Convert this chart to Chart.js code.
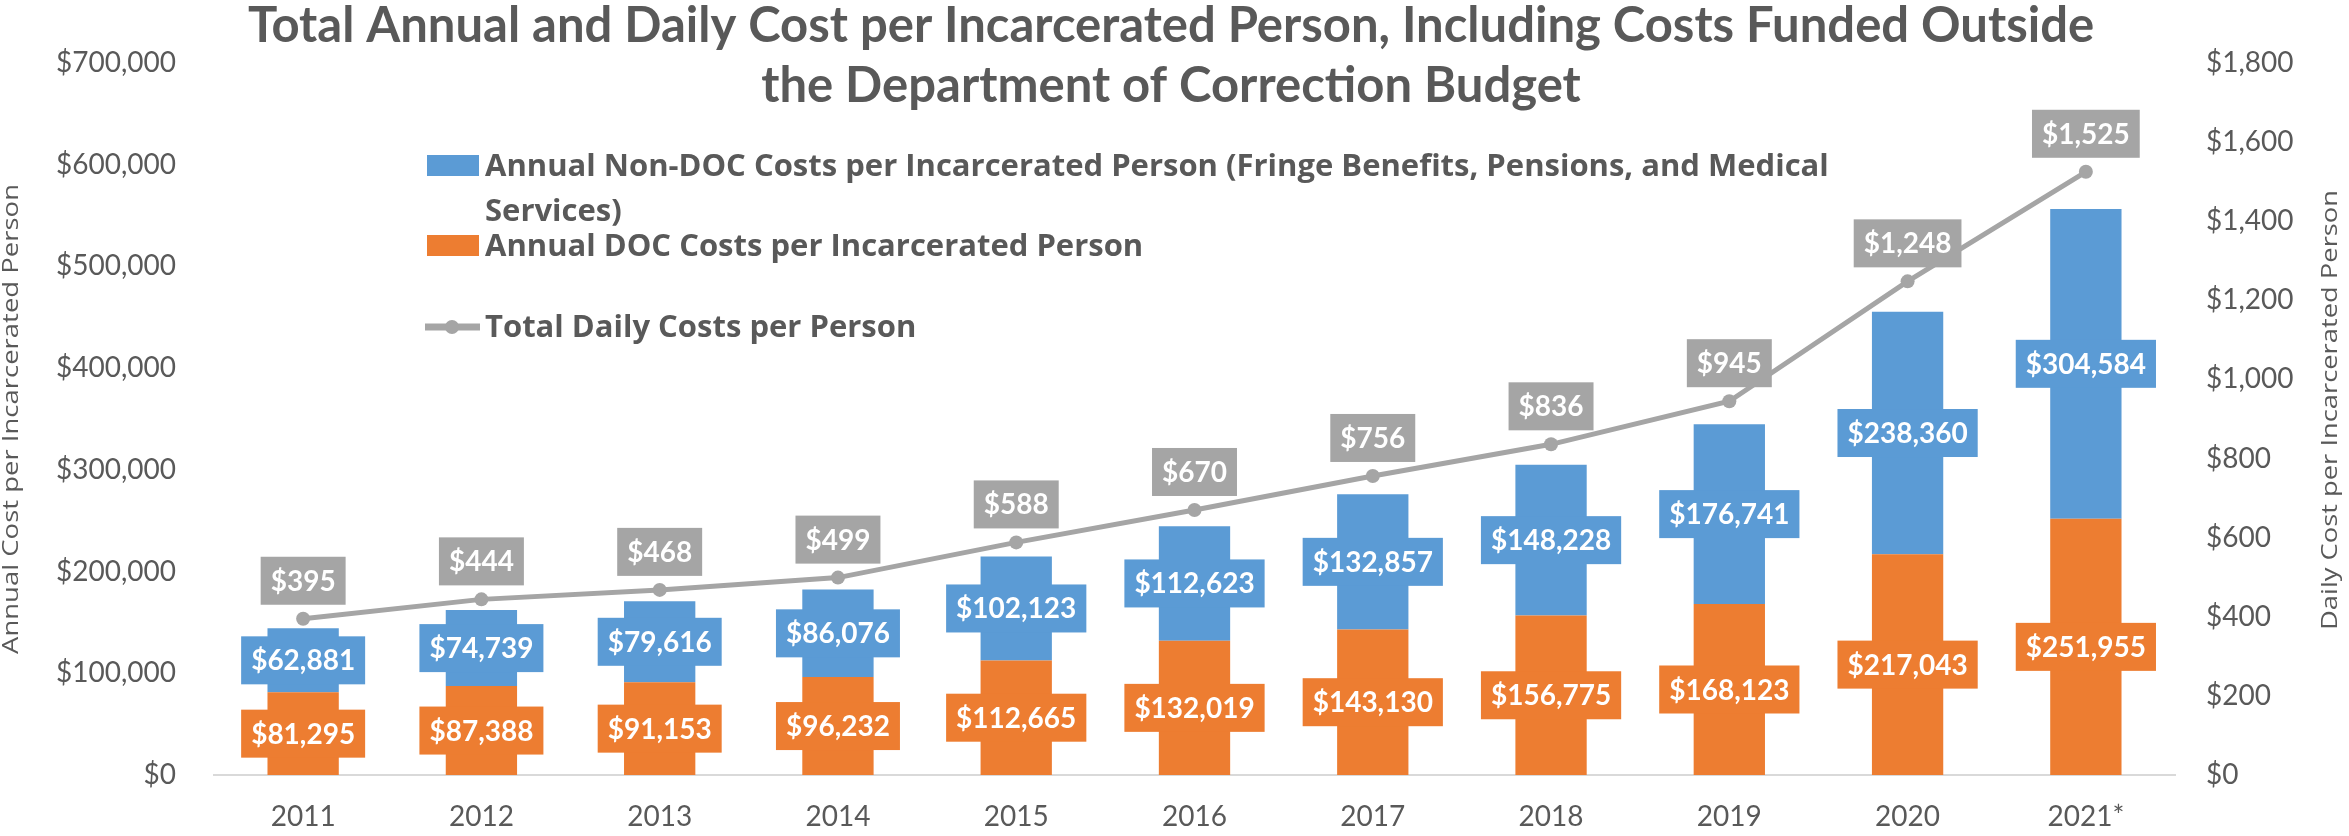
<!DOCTYPE html>
<html>
<head>
<meta charset="utf-8">
<title>Total Annual and Daily Cost per Incarcerated Person</title>
<script src="https://cdn.jsdelivr.net/npm/chart.js@4.4.1/dist/chart.umd.min.js"></script>
<style>
  html, body { margin: 0; padding: 0; background: #fff; }
</style>
</head>
<body>
<canvas id="costChart" width="2349" height="836"></canvas>
<script>
// Chart data
const years = ['2011', '2012', '2013', '2014', '2015', '2016', '2017', '2018', '2019', '2020', '2021*'];
const docCosts = [81295, 87388, 91153, 96232, 112665, 132019, 143130, 156775, 168123, 217043, 251955];
const nonDocCosts = [62881, 74739, 79616, 86076, 102123, 112623, 132857, 148228, 176741, 238360, 304584];
const dailyCosts = [395, 444, 468, 499, 588, 670, 756, 836, 945, 1248, 1525];

const titleLines = [
    'Total Annual and Daily Cost per Incarcerated Person, Including Costs Funded Outside',
    'the Department of Correction Budget'
];
const leftAxisTitle = 'Annual Cost per Incarcerated Person';
const rightAxisTitle = 'Daily Cost per Incarcerated Person';

const textGray = '#595959';
const blue = '#5B9BD5';
const orange = '#ED7D31';
const gray = '#A5A5A5';

function money(v) {
    return '$' + Number(v).toLocaleString('en-US');
}

// Boxed value labels on bars and line points
const boxLabels = {
    id: 'boxLabels',
    afterDatasetsDraw(chart) {
        const ctx = chart.ctx;
        ctx.save();
        ctx.font = 'bold 28px Lato';
        ctx.textAlign = 'center';
        ctx.textBaseline = 'middle';
        chart.data.datasets.forEach((ds, i) => {
            const meta = chart.getDatasetMeta(i);
            meta.data.forEach((el, j) => {
                const text = money(ds.data[j]);
                const w = ctx.measureText(text).width + 20;
                const h = 48;
                let cy;
                if (ds.type === 'line') {
                    cy = el.y - 14 - h / 2;
                } else {
                    cy = (el.y + el.base) / 2;
                }
                ctx.fillStyle = ds.backgroundColor;
                ctx.fillRect(el.x - w / 2, cy - h / 2, w, h);
                ctx.fillStyle = '#FFFFFF';
                ctx.fillText(text, el.x, cy + 1);
            });
        });
        ctx.restore();
    }
};

// Two-line title drawn over the top of the plot
const bigTitle = {
    id: 'bigTitle',
    afterDraw(chart) {
        const ctx = chart.ctx;
        ctx.save();
        ctx.font = 'bold 49px Lato';
        ctx.fillStyle = textGray;
        ctx.textAlign = 'center';
        ctx.textBaseline = 'alphabetic';
        titleLines.forEach((line, i) => {
            ctx.fillText(line, 1171, 42 + i * 60);
        });
        ctx.restore();
    }
};

// Rotated axis titles, stretched along their length like the reference
const axisTitles = {
    id: 'axisTitles',
    afterDraw(chart) {
        const ctx = chart.ctx;
        const area = chart.chartArea;
        const items = [
            { text: leftAxisTitle, x: 18, y: (area.top + area.bottom) / 2, len: 470 },
            { text: rightAxisTitle, x: 2337, y: (area.top + area.bottom) / 2 - 9, len: 440 }
        ];
        ctx.save();
        ctx.font = '21px "Open Sans"';
        ctx.fillStyle = textGray;
        ctx.textAlign = 'center';
        ctx.textBaseline = 'alphabetic';
        items.forEach(it => {
            const w = ctx.measureText(it.text).width;
            ctx.save();
            ctx.translate(it.x, it.y);
            ctx.rotate(-Math.PI / 2);
            ctx.scale(it.len / w, 1);
            ctx.fillText(it.text, 0, 0);
            ctx.restore();
        });
        ctx.restore();
    }
};

// Legend inside the plot area, with wrapping of the long label
const innerLegend = {
    id: 'innerLegend',
    afterDraw(chart) {
        const ctx = chart.ctx;
        const area = chart.chartArea;
        const x0 = area.left + 213;
        const textX = area.left + 271;
        const maxWidth = 1380;
        const tops = [155, 235, 316];
        const order = [2, 1, 0];
        ctx.save();
        ctx.font = 'bold 31px "Open Sans"';
        ctx.textBaseline = 'alphabetic';
        order.forEach((idx, k) => {
            const ds = chart.data.datasets[idx];
            const top = tops[k];
            if (ds.type === 'line') {
                ctx.strokeStyle = ds.borderColor;
                ctx.lineWidth = 7;
                ctx.beginPath();
                ctx.moveTo(x0 - 2, top + 11);
                ctx.lineTo(x0 + 53, top + 11);
                ctx.stroke();
                ctx.fillStyle = ds.borderColor;
                ctx.beginPath();
                ctx.arc(x0 + 25, top + 11, 7, 0, Math.PI * 2);
                ctx.fill();
            } else {
                ctx.fillStyle = ds.backgroundColor;
                ctx.fillRect(x0, top, 52, 21);
            }
            // simple word wrap
            const words = ds.label.split(' ');
            const lines = [];
            let cur = '';
            words.forEach(wd => {
                const test = cur ? cur + ' ' + wd : wd;
                if (ctx.measureText(test).width > maxWidth && cur) {
                    lines.push(cur);
                    cur = wd;
                } else {
                    cur = test;
                }
            });
            lines.push(cur);
            ctx.fillStyle = textGray;
            lines.forEach((ln, n) => {
                ctx.fillText(ln, textX, top + 21 + n * 45);
            });
        });
        ctx.restore();
    }
};

const tickFont = { family: 'Lato', size: 28 };

const ctx = document.getElementById('costChart').getContext('2d');
const costChart = new Chart(ctx, {
    data: {
        labels: years,
        datasets: [
            {
                type: 'line',
                label: 'Total Daily Costs per Person',
                data: dailyCosts,
                yAxisID: 'y1',
                order: 0,
                borderColor: gray,
                backgroundColor: gray,
                borderWidth: 5,
                pointRadius: 7,
                pointHoverRadius: 7,
                pointBackgroundColor: gray,
                pointBorderWidth: 0,
                tension: 0,
                clip: false
            },
            {
                type: 'bar',
                label: 'Annual DOC Costs per Incarcerated Person',
                data: docCosts,
                yAxisID: 'y',
                order: 1,
                backgroundColor: orange,
                borderWidth: 0,
                categoryPercentage: 1,
                barPercentage: 0.4
            },
            {
                type: 'bar',
                label: 'Annual Non-DOC Costs per Incarcerated Person (Fringe Benefits, Pensions, and Medical Services)',
                data: nonDocCosts,
                yAxisID: 'y',
                order: 1,
                backgroundColor: blue,
                borderWidth: 0,
                categoryPercentage: 1,
                barPercentage: 0.4
            }
        ]
    },
    options: {
        responsive: false,
        animation: false,
        devicePixelRatio: 1,
        layout: { padding: { top: 63, left: 0, right: 0, bottom: 0 } },
        plugins: {
            legend: { display: false },
            title: { display: false },
            tooltip: { enabled: false }
        },
        scales: {
            x: {
                stacked: true,
                grid: { display: false, drawTicks: false },
                border: { display: true, color: '#D9D9D9', width: 2 },
                ticks: { color: textGray, font: tickFont, padding: 25 },
                afterFit(scale) { scale.height = 61; }
            },
            y: {
                stacked: true,
                position: 'left',
                min: 0,
                max: 700000,
                grid: { display: false, drawTicks: false },
                border: { display: false },
                ticks: {
                    stepSize: 100000,
                    color: textGray,
                    font: tickFont,
                    padding: 38,
                    callback: v => money(v)
                },
                afterFit(scale) { scale.width = 214; }
            },
            y1: {
                position: 'right',
                min: 0,
                max: 1800,
                grid: { display: false, drawTicks: false },
                border: { display: false },
                ticks: {
                    stepSize: 200,
                    color: textGray,
                    font: tickFont,
                    padding: 31,
                    callback: v => money(v)
                },
                afterFit(scale) { scale.width = 174; }
            }
        }
    },
    plugins: [boxLabels, bigTitle, axisTitles, innerLegend]
});
</script>
</body>
</html>
